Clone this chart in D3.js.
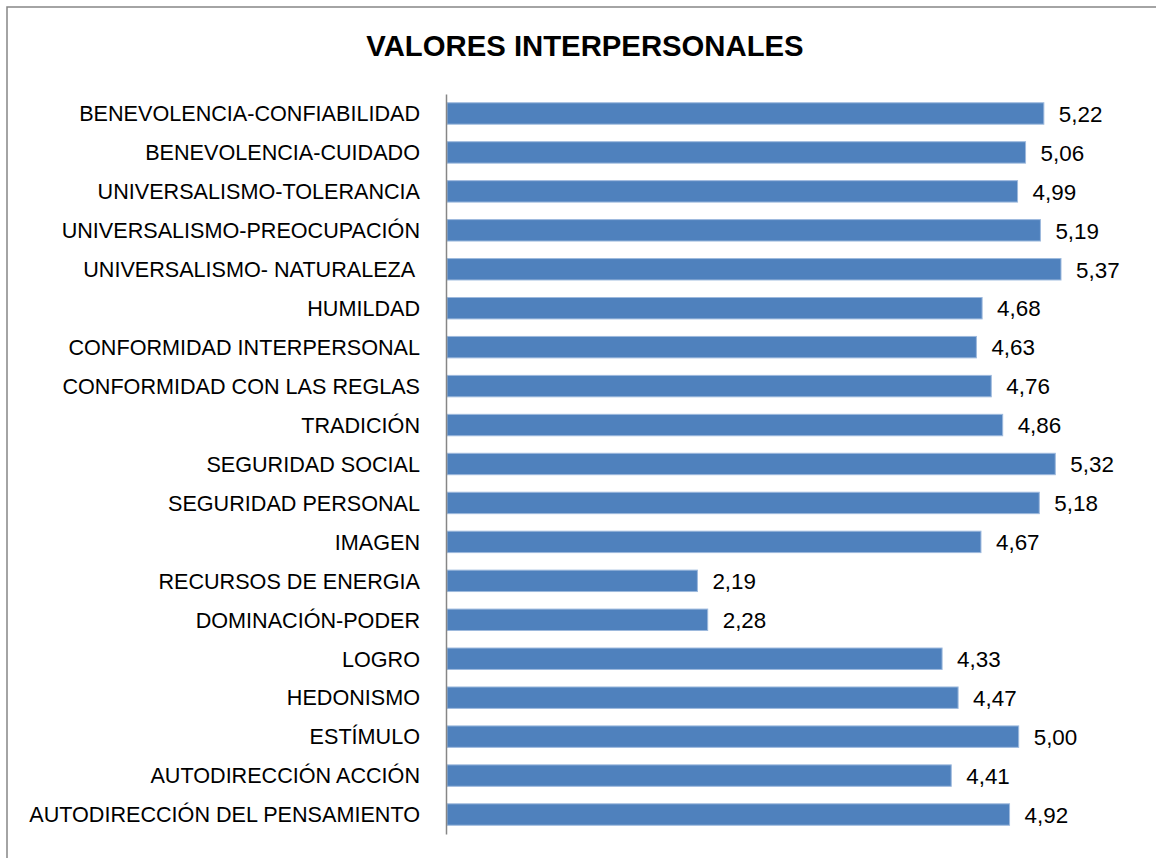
<!DOCTYPE html>
<html>
<head>
    <meta charset='utf-8'>
    <title>Valores interpersonales</title>
    <style type="text/css">
        body { margin: 0; background: #fff; }
        text { font-family: "Liberation Sans", Arial, sans-serif; fill: #000; }
        .title { font-weight: bold; font-size: 29.3px; }
        .cat { font-size: 21.6px; white-space: pre; }
        .val { font-size: 22.4px; }
        .bars rect { fill: #4F81BD; stroke: #9DB9DD; stroke-width: 1; }
    </style>
</head>
<body>
    <script src="https://cdn.jsdelivr.net/npm/d3@7"></script>

    <div id="svgContainer"></div>

    <script type="text/javascript">

        const width = 1156;
        const height = 858;

        const categories = [
            "BENEVOLENCIA-CONFIABILIDAD",
            "BENEVOLENCIA-CUIDADO",
            "UNIVERSALISMO-TOLERANCIA",
            "UNIVERSALISMO-PREOCUPACIÓN",
            "UNIVERSALISMO- NATURALEZA ",
            "HUMILDAD",
            "CONFORMIDAD INTERPERSONAL",
            "CONFORMIDAD CON LAS REGLAS",
            "TRADICIÓN",
            "SEGURIDAD SOCIAL",
            "SEGURIDAD PERSONAL",
            "IMAGEN",
            "RECURSOS DE ENERGIA",
            "DOMINACIÓN-PODER",
            "LOGRO",
            "HEDONISMO",
            "ESTÍMULO",
            "AUTODIRECCIÓN ACCIÓN",
            "AUTODIRECCIÓN DEL PENSAMIENTO"
        ];
        const values = [5.22, 5.06, 4.99, 5.19, 5.37, 4.68, 4.63, 4.76, 4.86, 5.32,
                        5.18, 4.67, 2.19, 2.28, 4.33, 4.47, 5.00, 4.41, 4.92];

        const data = categories.map((c, i) => ({ cat: c, value: values[i] }));

        const margin = { top: 94, left: 446, bottom: 24 };

        const svg = d3.select("#svgContainer").append("svg")
            .attr("width", width)
            .attr("height", height);

        // outer frame
        svg.append("rect")
            .attr("x", 7).attr("y", 7)
            .attr("width", width + 10).attr("height", height + 10)
            .attr("fill", "none")
            .attr("stroke", "#868686")
            .attr("stroke-width", 1.5);

        svg.append("text")
            .attr("class", "title")
            .attr("x", 585)
            .attr("y", 56)
            .attr("text-anchor", "middle")
            .text("VALORES INTERPERSONALES");

        const x = d3.scaleLinear()
            .domain([0, 5.37])
            .range([margin.left + 1, 1061]);

        const y = d3.scaleBand()
            .domain(categories)
            .range([margin.top, height - margin.bottom])
            .paddingInner(0.45)
            .paddingOuter(0.225);

        svg.append("g")
            .attr("class", "bars")
            .selectAll("rect")
            .data(data)
            .join("rect")
            .attr("x", x(0))
            .attr("y", d => y(d.cat))
            .attr("width", d => x(d.value) - x(0))
            .attr("height", y.bandwidth());

        const fmt = d => d3.format(".2f")(d).replace(".", ",");

        svg.append("g")
            .selectAll("text")
            .data(data)
            .join("text")
            .attr("class", "val")
            .attr("x", d => x(d.value) + 15)
            .attr("y", d => y(d.cat) + y.bandwidth() / 2)
            .attr("dy", "0.37em")
            .text(d => fmt(d.value));

        // category axis
        const yAxis = svg.append("g")
            .attr("transform", `translate(${margin.left},0)`)
            .call(d3.axisLeft(y).tickSize(0).tickPadding(26));

        yAxis.select(".domain")
            .attr("stroke", "#868686")
            .attr("stroke-width", 1.5);

        yAxis.selectAll(".tick text")
            .attr("class", "cat")
            .attr("fill", "#000")
            .attr("dy", "0.36em");

    </script>
</body>
</html>
